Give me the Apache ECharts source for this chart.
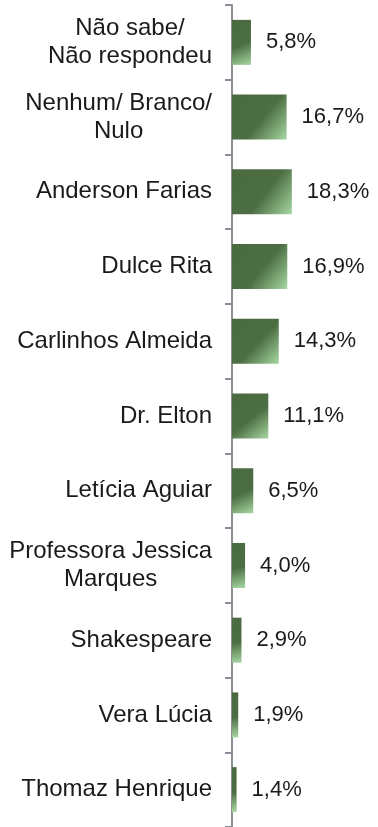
<!DOCTYPE html>
<html>
<head>
<meta charset="utf-8">
<script src="https://cdn.jsdelivr.net/npm/echarts@6/dist/echarts.min.js"></script>
<style>
  html, body { margin: 0; padding: 0; background: #ffffff; }
  #chart { width: 378px; height: 827px; }
</style>
</head>
<body>
<div id="chart"></div>
<script>
// Voting intention by candidate (%)
const categories = [
  'Não sabe/\nNão respondeu',
  'Nenhum/ Branco/\nNulo',
  'Anderson Farias',
  'Dulce Rita',
  'Carlinhos Almeida',
  'Dr. Elton',
  'Letícia Aguiar',
  'Professora Jessica\nMarques',
  'Shakespeare',
  'Vera Lúcia',
  'Thomaz Henrique'
];
const values = [5.8, 16.7, 18.3, 16.9, 14.3, 11.1, 6.5, 4.0, 2.9, 1.9, 1.4];

const FONT = "'Liberation Sans', Arial, sans-serif";
const AXIS_GREY = '#8a8e97';

const chart = echarts.init(document.getElementById('chart'), null, { renderer: 'canvas' });

const barFill = new echarts.graphic.LinearGradient(0, 0, 1, 1, [
  { offset: 0, color: '#4a6a40' },
  { offset: 0.55, color: '#4d6e43' },
  { offset: 1, color: '#a6d8a2' }
]);

chart.setOption({
  animation: false,
  backgroundColor: '#ffffff',
  grid: { left: 232, top: 5, bottom: -4, width: 130.8, containLabel: false },
  xAxis: {
    type: 'value',
    min: 0,
    max: 40,
    show: false
  },
  yAxis: {
    type: 'category',
    data: categories,
    inverse: true,
    axisLine: { show: true, lineStyle: { color: AXIS_GREY, width: 2 } },
    axisTick: { show: true, inside: false, length: 7, lineStyle: { color: AXIS_GREY, width: 2 } },
    splitLine: { show: false },
    axisLabel: {
      margin: 20,
      color: '#1a1a1a',
      fontFamily: FONT,
      fontSize: 24,
      lineHeight: 28,
      align: 'right',
      // centre each line inside the right-aligned label block
      formatter: (v) => v.split('\n').map((line) => '{c|' + line + '}').join('\n'),
      rich: {
        c: { align: 'center', fontFamily: FONT, fontSize: 24, lineHeight: 28, color: '#1a1a1a' }
      }
    }
  },
  series: [{
    type: 'bar',
    data: values,
    barWidth: 45,
    itemStyle: { color: barFill },
    label: {
      show: true,
      position: 'right',
      distance: 15,
      color: '#1a1a1a',
      fontFamily: FONT,
      fontSize: 22,
      formatter: (p) => p.value.toFixed(1).replace('.', ',') + '%'
    }
  }]
});
</script>
</body>
</html>
